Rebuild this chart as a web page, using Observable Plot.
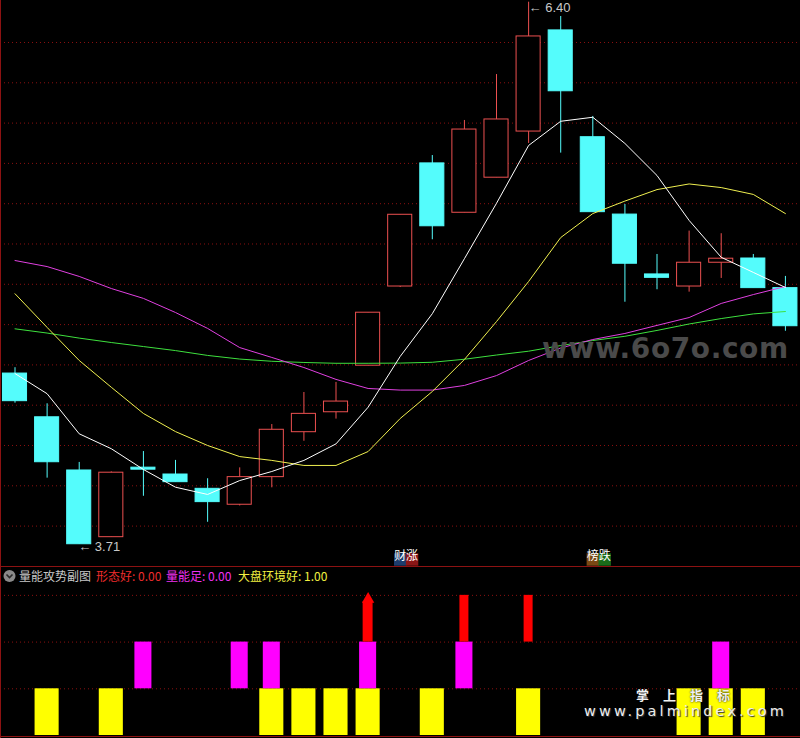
<!DOCTYPE html>
<html><head><meta charset="utf-8">
<script src="https://cdn.jsdelivr.net/npm/d3@7"></script>
<script src="https://cdn.jsdelivr.net/npm/@observablehq/plot@0.6"></script>
<style>
html,body{margin:0;padding:0;background:#000;}
#wrap{position:relative;width:800px;height:738px;overflow:hidden;background:#000;font-family:"Noto Sans CJK SC","DejaVu Sans",sans-serif;}
#top{position:absolute;left:0;top:0;}
#bot{position:absolute;left:0;top:586px;}
.ln{position:absolute;background:#8c1212;}
#hdr{position:absolute;left:0;top:568px;height:16px;width:800px;font-size:12px;line-height:16px;white-space:nowrap;}
#hdr span{position:absolute;top:0;}
.wm1{position:absolute;left:542px;top:335px;font:bold 28px "DejaVu Sans",sans-serif;color:#4a4a4a;line-height:1;white-space:nowrap;letter-spacing:0.6px;}
.wm2{position:absolute;left:636px;top:688px;font:bold 13px "Noto Sans CJK SC",sans-serif;color:#f2f2f2;letter-spacing:14px;line-height:1;white-space:nowrap;text-shadow:0 0 2px #000;}
.wm3{position:absolute;left:584px;top:704px;font:14.5px "DejaVu Sans",sans-serif;color:#eeeeee;letter-spacing:3.1px;line-height:1;white-space:nowrap;text-shadow:1px 1px 1px #333;}
</style></head><body>
<div id="wrap">
  <div id="top"></div>
  <div id="bot"></div>
  <div class="ln" style="left:0;top:0;width:1px;height:738px"></div>
  <div class="ln" style="left:0;top:566px;width:800px;height:1px"></div>
  <div class="ln" style="left:0;top:736px;width:800px;height:1px"></div>
  <div id="hdr">
    <svg width="14" height="14" style="position:absolute;left:3px;top:1px"><circle cx="6.5" cy="7" r="6" fill="#8a8a8a"/><path d="M3.5 5.5 L6.5 8.5 L9.5 5.5" stroke="#2a2a2a" stroke-width="1.6" fill="none"/></svg>
    <span id="h0" style="left:19px;color:#c8c8c8"></span>
    <span id="h1" style="left:96px;color:#ee2c2c"></span>
    <span id="h2" style="left:166px;color:#f030f0"></span>
    <span id="h3" style="left:238px;color:#f0f040"></span>
  </div>
  <div class="wm1">www.6o7o.com</div>
  <div class="wm2">掌上指标</div>
  <div class="wm3">www.palmindex.com</div>
</div>
<script>
// ---- data ----
const open  = [4.557,4.340,4.076,3.745,4.090,4.056,3.985,3.906,4.043,4.266,4.365,4.596,4.989,5.600,5.355,5.529,5.758,6.260,5.730,5.346,5.049,4.989,5.107,5.128,4.981];
const close = [4.420,4.117,3.710,4.065,4.080,4.018,3.919,4.043,4.278,4.357,4.418,4.859,5.345,5.288,5.768,5.818,6.230,5.958,5.358,5.102,5.032,5.107,5.127,4.981,4.792];
const high  = [4.586,4.407,4.116,4.069,4.170,4.126,4.035,4.089,4.304,4.463,4.513,4.859,5.345,5.639,5.813,6.041,6.400,6.329,5.833,5.396,5.148,5.264,5.251,5.148,5.039];
const low   = [4.410,4.038,3.710,3.745,3.948,4.018,3.819,3.900,3.990,4.221,4.331,4.596,4.984,5.221,5.355,5.529,5.699,5.651,5.358,4.911,4.973,4.961,5.029,4.983,4.767];
const ma5   = [4.557,4.457,4.258,4.184,4.081,3.993,3.957,4.026,4.071,4.126,4.208,4.390,4.642,4.854,5.127,5.402,5.689,5.809,5.829,5.699,5.540,5.317,5.134,5.059,4.984];
const ma10  = [4.953,4.786,4.622,4.489,4.359,4.269,4.200,4.145,4.126,4.101,4.101,4.170,4.334,4.468,4.627,4.815,5.014,5.232,5.351,5.413,5.470,5.498,5.480,5.446,5.351];
const ma20  = [5.118,5.088,5.039,4.979,4.930,4.860,4.781,4.686,4.637,4.587,4.528,4.483,4.475,4.475,4.498,4.547,4.622,4.684,4.726,4.756,4.796,4.835,4.905,4.949,4.989];
const ma60  = [4.779,4.758,4.733,4.711,4.691,4.671,4.647,4.629,4.618,4.612,4.608,4.608,4.609,4.613,4.628,4.649,4.668,4.696,4.721,4.742,4.771,4.803,4.830,4.853,4.865];
const gridLevels = [3.8,4.0,4.2,4.4,4.6,4.8,5.0,5.2,5.4,5.6,5.8,6.0,6.2];
const badges = [{i:12,k:0,ch:"财",bg:"#1c3c6c"},{i:12,k:1,ch:"涨",bg:"#8a1616"},{i:18,k:0,ch:"榜",bg:"#7a4814"},{i:18,k:1,ch:"跌",bg:"#1a6c1a"}];
// lower panel
const yellowIdx  = [1,3,8,9,10,11,13,16,21,22,23];
const magentaIdx = [4,7,8,11,14,22];
const redIdx     = [14,16];
const arrowIdx   = [11];
const subGrid    = [1,2,3];
const header = ["量能攻势副图","形态好: 0.00","量能足: 0.00","大盘环境好: 1.00"];

header.forEach((t,j)=>document.getElementById("h"+j).textContent=t);

const idx = d3.range(open.length);
const candles = idx.map(i => ({i, o: open[i], c: close[i], h: high[i], l: low[i], up: close[i] >= open[i]}));
const UP = "#ec5050", DN = "#54fcfc";
const W = 0.375;
const xs = {domain: [-0.452, 24.47], range: [0, 800], axis: null};
const iHigh = d3.maxIndex(high), iLow = d3.minIndex(low);

const topPlot = Plot.plot({
  width: 800, height: 566, margin: 0,
  style: {background: "#000", overflow: "visible"},
  x: xs,
  y: {domain: [3.5995, 6.4084], range: [566, 0], axis: null},
  color: {type: "identity"},
  marks: [
    Plot.ruleY(gridLevels, {stroke: "#8a1010", strokeDasharray: "1,3"}),
    Plot.ruleX(candles, {x: "i", y1: "l", y2: "h", stroke: d => d.up ? UP : DN}),
    Plot.rect(candles, {x1: d => d.i - W, x2: d => d.i + W, y1: "o", y2: "c",
      fill: d => d.up ? "#000" : DN, stroke: d => d.up ? UP : DN, strokeWidth: 1}),
    Plot.line(idx, {x: d => d, y: i => ma60[i], stroke: "#3ee03e", strokeWidth: 1}),
    Plot.line(idx, {x: d => d, y: i => ma20[i], stroke: "#e040e0", strokeWidth: 1}),
    Plot.line(idx, {x: d => d, y: i => ma10[i], stroke: "#f0f050", strokeWidth: 1}),
    Plot.line(idx, {x: d => d, y: i => ma5[i], stroke: "#ffffff", strokeWidth: 1}),
    Plot.text([iHigh], {x: d => d, y: i => high[i], text: i => "← " + high[i].toFixed(2),
      textAnchor: "start", dx: 0, dy: 6, fill: "#c8c8c8", fontSize: 13, fontFamily: "Liberation Sans, sans-serif"}),
    Plot.text([iLow], {x: d => d, y: i => low[i], text: i => "← " + low[i].toFixed(2),
      textAnchor: "start", dx: -1, dy: 3, fill: "#c8c8c8", fontSize: 13, fontFamily: "Liberation Sans, sans-serif"}),
    Plot.dot(badges, {x: d => d.i + d.k * 0.37, frameAnchor: "bottom", dy: -7, symbol: "square", r: 7, fill: d => d.bg}),
    Plot.text(badges, {x: d => d.i + d.k * 0.37, frameAnchor: "bottom", dy: -7, text: "ch", fill: "#ffffff", fontSize: 12, fontFamily: "Noto Sans CJK SC"})
  ]
});
document.getElementById("top").appendChild(topPlot);

const botPlot = Plot.plot({
  width: 800, height: 152, margin: 0,
  style: {background: "#000", overflow: "visible"},
  x: xs,
  y: {domain: [-0.064, 3.19], range: [152, 0], axis: null},
  marks: [
    Plot.ruleY(subGrid, {stroke: "#8a1010", strokeDasharray: "1,3"}),
    Plot.rect(yellowIdx, {x1: d => d - 0.375, x2: d => d + 0.375, y1: 0, y2: 1, fill: "#ffff00"}),
    Plot.rect(magentaIdx, {x1: d => d - 0.265, x2: d => d + 0.265, y1: 1, y2: 2, fill: "#ff00ff"}),
    Plot.rect(redIdx, {x1: d => d - 0.14, x2: d => d + 0.14, y1: 2, y2: 3, fill: "#ff0000"}),
    Plot.rect(arrowIdx, {x1: d => d - 0.155, x2: d => d + 0.155, y1: 2, y2: 2.86, fill: "#ff0000"}),
    Plot.dot(arrowIdx, {x: d => d, y: 2.92, symbol: "triangle", r: 4.6, fill: "#ff0000"})
  ]
});
document.getElementById("bot").appendChild(botPlot);
</script>
</body></html>
